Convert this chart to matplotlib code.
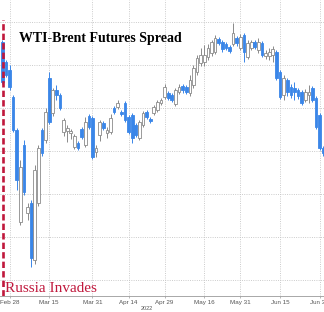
import matplotlib
matplotlib.use("Agg")
import matplotlib.pyplot as plt

# ---- data (spread, $/bbl), one candle per trading day starting at the invasion ----
open_ = [-1.47, -1.93, -2.12, -2.74, -3.51, -5.65, -3.86, -5.44, -5.21, -6.53,
         -5.21, -3.51, -3.74, -2.30, -3.12, -2.58, -2.70, -3.56, -3.53, -3.58,
         -3.91, -3.81, -3.49, -3.86, -3.19, -3.23, -4.02, -3.63, -3.35, -3.58,
         -3.56, -3.00, -2.98, -3.09, -2.88, -3.21, -3.16, -3.40, -3.70, -3.40,
         -3.09, -3.26, -3.12, -3.05, -2.88, -2.74, -2.65, -2.70, -2.91, -2.63,
         -2.49, -2.51, -2.65, -2.47, -2.16, -1.95, -1.93, -1.81, -1.72, -1.70,
         -1.40, -1.47, -1.51, -1.58, -1.51, -1.37, -1.60, -1.30, -1.81, -1.60,
         -1.47, -1.65, -1.49, -1.79, -1.79, -1.77, -1.70, -2.16, -2.70, -2.35,
         -2.51, -2.53, -2.58, -2.63, -2.81, -2.70, -2.53, -2.77, -3.16, -3.93]
close = [-2.40, -2.23, -2.51, -3.51, -4.67, -4.37, -4.95, -5.30, -6.49, -4.44,
         -3.93, -4.05, -3.09, -3.33, -2.58, -2.70, -3.00, -3.28, -3.47, -3.53,
         -3.65, -3.93, -3.67, -3.33, -3.44, -4.14, -3.93, -3.33, -3.47, -3.51,
         -3.23, -3.09, -2.88, -3.14, -3.28, -3.56, -3.70, -3.63, -3.33, -3.12,
         -3.21, -3.30, -2.98, -2.86, -2.81, -2.51, -2.77, -2.81, -2.58, -2.51,
         -2.58, -2.63, -2.35, -2.07, -1.84, -1.77, -1.77, -1.60, -1.47, -1.37,
         -1.49, -1.63, -1.60, -1.67, -1.26, -1.49, -1.35, -1.70, -1.49, -1.47,
         -1.58, -1.47, -1.77, -1.72, -1.70, -1.63, -2.30, -2.74, -2.30, -2.63,
         -2.70, -2.63, -2.72, -2.88, -2.63, -2.63, -2.81, -3.44, -3.93, -4.05]
high = [-1.42, -1.88, -2.00, -2.70, -3.47, -4.21, -3.74, -5.21, -5.14, -4.33,
        -3.86, -3.47, -3.00, -2.16, -2.53, -2.47, -2.65, -3.23, -3.40, -3.49,
        -3.60, -3.77, -3.44, -3.21, -3.14, -3.19, -3.86, -3.28, -3.30, -3.44,
        -3.14, -2.95, -2.81, -3.05, -2.84, -3.16, -3.12, -3.35, -3.28, -3.07,
        -3.05, -3.21, -2.93, -2.81, -2.77, -2.44, -2.60, -2.65, -2.53, -2.44,
        -2.44, -2.47, -2.23, -2.00, -1.77, -1.60, -1.53, -1.51, -1.42, -1.30,
        -1.35, -1.42, -1.47, -1.53, -1.02, -1.33, -1.28, -1.26, -1.42, -1.42,
        -1.42, -1.37, -1.44, -1.65, -1.60, -1.56, -1.65, -2.12, -2.23, -2.30,
        -2.44, -2.40, -2.53, -2.58, -2.56, -2.47, -2.49, -2.72, -3.12, -3.88]
low = [-2.44, -2.28, -2.58, -3.56, -4.91, -5.72, -5.02, -5.60, -6.70, -6.63,
       -5.28, -4.12, -3.81, -3.37, -3.19, -2.81, -3.05, -3.65, -3.79, -3.72,
       -3.95, -3.98, -3.72, -3.91, -3.49, -4.19, -4.14, -3.77, -3.51, -3.70,
       -3.60, -3.14, -3.02, -3.19, -3.33, -3.60, -3.81, -3.67, -3.74, -3.44,
       -3.26, -3.35, -3.16, -3.09, -2.93, -2.79, -2.81, -2.86, -2.95, -2.67,
       -2.65, -2.67, -2.72, -2.53, -2.23, -2.02, -2.02, -1.88, -1.79, -1.74,
       -1.53, -1.70, -1.65, -1.72, -1.56, -1.56, -1.65, -1.93, -1.86, -1.65,
       -1.63, -1.72, -1.81, -1.86, -1.88, -1.93, -2.35, -2.79, -2.81, -2.72,
       -2.77, -2.81, -2.79, -2.93, -2.86, -2.88, -2.86, -3.49, -3.98, -4.12]

tick_idx = [2, 13, 25, 35, 45, 56, 66, 77, 88]
tick_labels = ["Feb 28", "Mar 15", "Mar 31", "Apr 14", "Apr 29",
               "May 16", "May 31", "Jun 15", "Jun 30"]
grid_levels = [-1, -2, -3, -4, -5, -6, -7]
invasion_idx = 0.2

BLUE = "#3a86e8"
GREY = "#8a8a8a"
RED = "#c0183c"

fig = plt.figure(figsize=(3.24, 3.12), dpi=100)
ax = fig.add_axes([0, 16 / 312, 1, 296 / 312])

n = len(open_)
xs = list(range(n))
down = [c < o for o, c in zip(open_, close)]

# wicks
ax.vlines(xs, low, high, colors=[BLUE if d else GREY for d in down],
          linewidth=0.7, zorder=2)
# bodies
bottoms = [min(o, c) for o, c in zip(open_, close)]
heights = [max(abs(c - o), 0.03) for o, c in zip(open_, close)]
ax.bar(xs, heights, bottom=bottoms, width=0.75,
       color=[BLUE if d else "white" for d in down],
       edgecolor=[BLUE if d else GREY for d in down],
       linewidth=0.6, zorder=3)

# invasion marker
ax.axvline(invasion_idx, ymin=0, ymax=(296 - 20) / 296, color=RED,
           linestyle=(0, (2.4, 1.2)), linewidth=1.9, zorder=4)

ax.set_xlim(-0.638, 89.19)
ax.set_ylim(-7.372, -0.488)
ax.set_xticks(tick_idx)
ax.set_xticklabels(tick_labels, fontsize=4.5, color="#555555",
                   family="Liberation Sans")
ax.set_yticks(grid_levels)
ax.tick_params(axis="y", length=0, labelleft=False)
ax.tick_params(axis="x", length=1.5, width=0.5, color="#999999", pad=1.5)
ax.grid(True, linestyle=(0, (1, 1.5)), color="#c4c4c4", linewidth=0.65, zorder=0)
ax.set_axisbelow(True)
for s in ["top", "left", "right"]:
    ax.spines[s].set_visible(False)
ax.spines["bottom"].set_color("#9a9a9a")
ax.spines["bottom"].set_linewidth(0.6)

fig.text(19 / 324, (312 - 42) / 312, "WTI-Brent Futures Spread",
         family="Liberation Serif", fontweight="bold", fontsize=10,
         color="black", va="baseline", ha="left")
fig.text(5 / 324, (312 - 292) / 312, "Russia Invades",
         family="Liberation Serif", fontsize=11, color=RED,
         va="baseline", ha="left")
fig.text(147 / 324, (312 - 308) / 312, "2022", family="Liberation Sans",
         fontsize=4, color="#555555", ha="center", va="center")

fig.savefig("out.png", dpi=100)
